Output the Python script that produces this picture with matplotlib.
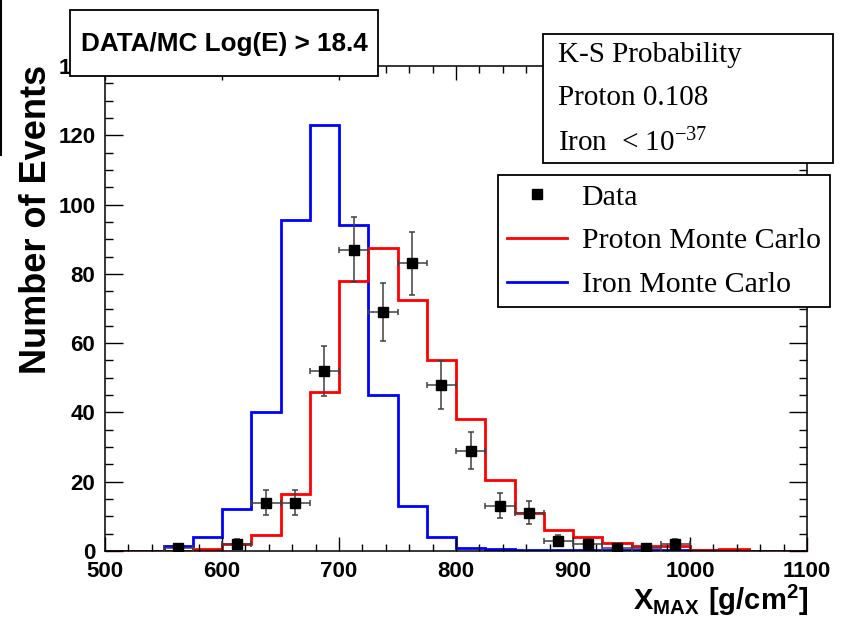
import matplotlib.pyplot as plt
import numpy as np
from matplotlib.lines import Line2D
from matplotlib.patches import Rectangle

plt.rcParams['mathtext.fontset'] = 'custom'
plt.rcParams['mathtext.sf'] = 'Liberation Sans:bold'
plt.rcParams['mathtext.rm'] = 'Liberation Serif'

# bin edges (g/cm2)
edges = np.arange(500, 1101, 25)

# Monte Carlo histograms, one value per 25 g/cm2 bin from 500 to 1100
iron_mc = [0, 0, 1.5, 4, 12, 40, 95.5, 123, 94, 45, 13, 4,
           1, 0.5, 0.3, 0.2, 0.2, 0.2, 0.2, 0.2, 0.2, 0.2, 0, 0]
proton_mc = [0, 0, 0, 0.5, 2, 4.5, 16.5, 46, 78, 87.5, 72.5, 55,
             38, 20.5, 11, 6, 4, 2.2, 1.4, 1.3, 0.3, 0.7, 0.1, 0.1]

# data points
data_x = [562.5, 612.5, 637.5, 662.5, 687.5, 712.5, 737.5, 762.5, 787.5,
          812.5, 837.5, 862.5, 887.5, 912.5, 937.5, 962.5, 987.5]
data_y = [1, 2, 14, 14, 52, 87, 69, 83, 48, 29, 13, 11, 3, 2, 1, 1, 2]
data_err = [1, 1.4, 3.7, 3.7, 7.2, 9.3, 8.3, 9.1, 6.9, 5.4, 3.6, 3.3,
            1.7, 1.4, 1, 1, 1.4]
bin_half = 12.5

W, H = 844, 631
fig = plt.figure(figsize=(W / 100, H / 100), dpi=100)
ax = fig.add_axes([105 / W, 1 - 551 / H, (807 - 105) / W, (551 - 66) / H])

ax.stairs(iron_mc, edges, color='#0000ff', lw=2.0, baseline=0)
ax.stairs(proton_mc, edges, color='#ff0000', lw=2.0, baseline=0)
ax.errorbar(data_x, data_y, yerr=data_err, xerr=bin_half, fmt='none',
            ecolor='#404040', elinewidth=1.1, capsize=2.5, capthick=1.1, zorder=4)
ax.plot(data_x, data_y, 's', color='black', ms=7, zorder=5)

ax.set_xlim(500, 1100)
ax.set_ylim(0, 140)
ax.set_xticks(np.arange(500, 1101, 100))
ax.set_xticks(np.arange(500, 1101, 20), minor=True)
ax.set_yticks(np.arange(0, 141, 20))
ax.set_yticks(np.arange(0, 141, 5), minor=True)
for s in ax.spines.values():
    s.set_linewidth(1.1)

tick_font = dict(family='Liberation Sans', weight='bold', size=16)
ax.tick_params(which='both', direction='in', top=True, right=True, width=1.0)
ax.tick_params(axis='x', which='major', length=10, pad=7)
ax.tick_params(axis='x', which='minor', length=5)
ax.tick_params(axis='y', which='major', length=13, pad=7)
ax.tick_params(axis='y', which='minor', length=6)
for lab in ax.get_xticklabels() + ax.get_yticklabels():
    lab.set_fontproperties(tick_font)
    lab.set_fontweight('bold')

fig.text(37 / W, 1 - 219 / H, 'Number of Events', rotation=90, ha='center', va='center',
         family='Liberation Sans', weight='bold', size=26)
fig.text(808 / W, 1 - 610 / H, r'$\mathsf{X_{MAX}\ [g/cm^{2}]}$', ha='right', va='baseline',
         size=21)

# title box
fig.patches.append(Rectangle((70 / W, 1 - 76 / H), (378 - 70) / W, (76 - 10) / H,
                             transform=fig.transFigure, facecolor='white',
                             edgecolor='black', lw=1.3, zorder=10))
fig.text(224 / W, 1 - 44 / H, 'DATA/MC Log(E) > 18.4', ha='center', va='center',
         family='Liberation Sans', weight='bold', size=18.8, zorder=11)

# K-S box
fig.patches.append(Rectangle((543 / W, 1 - 163 / H), (833 - 543) / W, (163 - 34) / H,
                             transform=fig.transFigure, facecolor='white',
                             edgecolor='black', lw=1.3, zorder=10))
ks_lines = ['K-S Probability', 'Proton 0.108', r'Iron  < $\mathrm{10^{-37}}$']
for txt, yy in zip(ks_lines, [55, 98, 143]):
    fig.text(558 / W, 1 - yy / H, txt, ha='left', va='center',
             family='Liberation Serif', size=21, zorder=11)

# legend
handles = [Line2D([], [], marker='s', color='black', ls='none', ms=7),
           Line2D([], [], color='#ff0000', lw=2.0),
           Line2D([], [], color='#0000ff', lw=2.0)]
labels = ['Data', 'Proton Monte Carlo', 'Iron Monte Carlo']
leg = ax.legend(handles, labels, loc='upper left',
                bbox_to_anchor=(498 / W, 1 - 175 / H), bbox_transform=fig.transFigure,
                prop=dict(family='Liberation Serif', size=21.5), frameon=True,
                fancybox=False, edgecolor='black', framealpha=1, borderaxespad=0,
                borderpad=0.3, handlelength=2.0, handletextpad=0.5, labelspacing=0.56)
leg.get_frame().set_linewidth(1.3)
leg.set_zorder(12)

# edge line at the far left
fig.add_artist(Line2D([1 / W, 1 / W], [1, 1 - 155 / H], transform=fig.transFigure,
                      color='black', lw=1.5))

fig.savefig('out.png', dpi=100)
